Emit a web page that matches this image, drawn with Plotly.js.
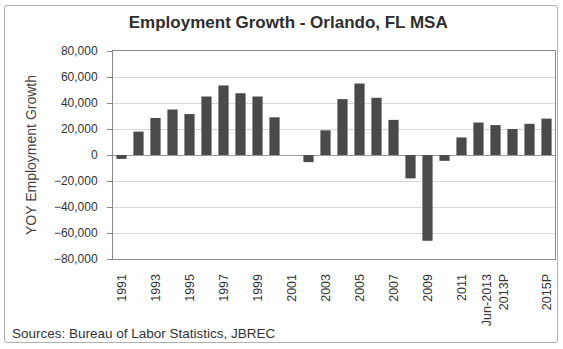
<!DOCTYPE html>
<html>
<head>
<meta charset="utf-8">
<script src="https://cdn.plot.ly/plotly-3.0.1.min.js"></script>
<style>
  html, body { margin: 0; padding: 0; background: #fff; }
  #wrap { position: relative; width: 563px; height: 349px; }
  #chart { width: 563px; height: 349px; }
  #frame { position: absolute; left: 4px; top: 5px; width: 552px; height: 336px;
           border: 1px solid #b0b0b0; border-radius: 3px; pointer-events: none; }
</style>
</head>
<body>
<div id="wrap">
  <div id="chart"></div>
  <div id="frame"></div>
</div>
<script>
const categories = ["1991","1992","1993","1994","1995","1996","1997","1998","1999","2000",
  "2001","2002","2003","2004","2005","2006","2007","2008","2009","2010","2011","2012",
  "Jun-2013","2013P","2014P","2015P"];
const growth = [-3000,18000,28500,35000,31500,45000,53500,47500,45000,29000,
  0,-5500,19000,43000,55000,44000,27000,-18000,-66000,-4500,13500,25000,
  23000,20000,24000,28000];
const tickCats = ["1991","1993","1995","1997","1999","2001","2003","2005","2007","2009","2011","Jun-2013","2015P"];
const tickLabels = ["1991","1993","1995","1997","1999","2001","2003","2005","2007","2009","2011","Jun-2013<br>2013P","2015P"];
const yTicks = [-80000,-60000,-40000,-20000,0,20000,40000,60000,80000];

const font = "Liberation Sans, Arial, sans-serif";

Plotly.newPlot("chart", [{
  type: "bar",
  x: categories,
  y: growth,
  marker: { color: "#4a4a4a", line: { width: 0 } },
  hoverinfo: "x+y"
}], {
  width: 563, height: 349,
  margin: { l: 113, r: 8, t: 51, b: 90 },
  paper_bgcolor: "#ffffff",
  plot_bgcolor: "#ffffff",
  bargap: 0.4,
  showlegend: false,
  title: {
    text: "<b>Employment Growth - Orlando, FL MSA</b>",
    font: { family: font, size: 17, color: "#2e2e2e" },
    x: 0.512, xanchor: "center", y: 0.937, yanchor: "middle"
  },
  xaxis: {
    type: "category",
    tickvals: tickCats,
    ticktext: tickLabels,
    tickangle: -90,
    tickfont: { family: font, size: 12.5, color: "#333" },
    ticklabelstandoff: 9,
    showgrid: false,
    ticks: "",
    showline: true, linecolor: "#888", linewidth: 1, mirror: true,
    automargin: false
  },
  yaxis: {
    range: [-80000, 80000],
    tickvals: yTicks,
    tickformat: ",d",
    tickfont: { family: font, size: 12, color: "#333" },
    showgrid: true, gridcolor: "#d9d9d9", gridwidth: 1,
    zeroline: true, zerolinecolor: "#9a9a9a", zerolinewidth: 1,
    showline: true, linecolor: "#888", linewidth: 1, mirror: true,
    ticks: "outside", ticklen: 5, tickcolor: "#888",
    ticklabelstandoff: 7,
    title: { text: "YOY Employment Growth", font: { family: font, size: 14, color: "#444" }, standoff: 13 },
    automargin: false
  },
  annotations: [{
    text: "Sources: Bureau of Labor Statistics, JBREC",
    xref: "paper", yref: "paper",
    x: -0.232, y: -0.36, xanchor: "left", yanchor: "middle",
    showarrow: false,
    font: { family: font, size: 13.5, color: "#333" }
  }]
}, { displayModeBar: false, staticPlot: true });
</script>
</body>
</html>
